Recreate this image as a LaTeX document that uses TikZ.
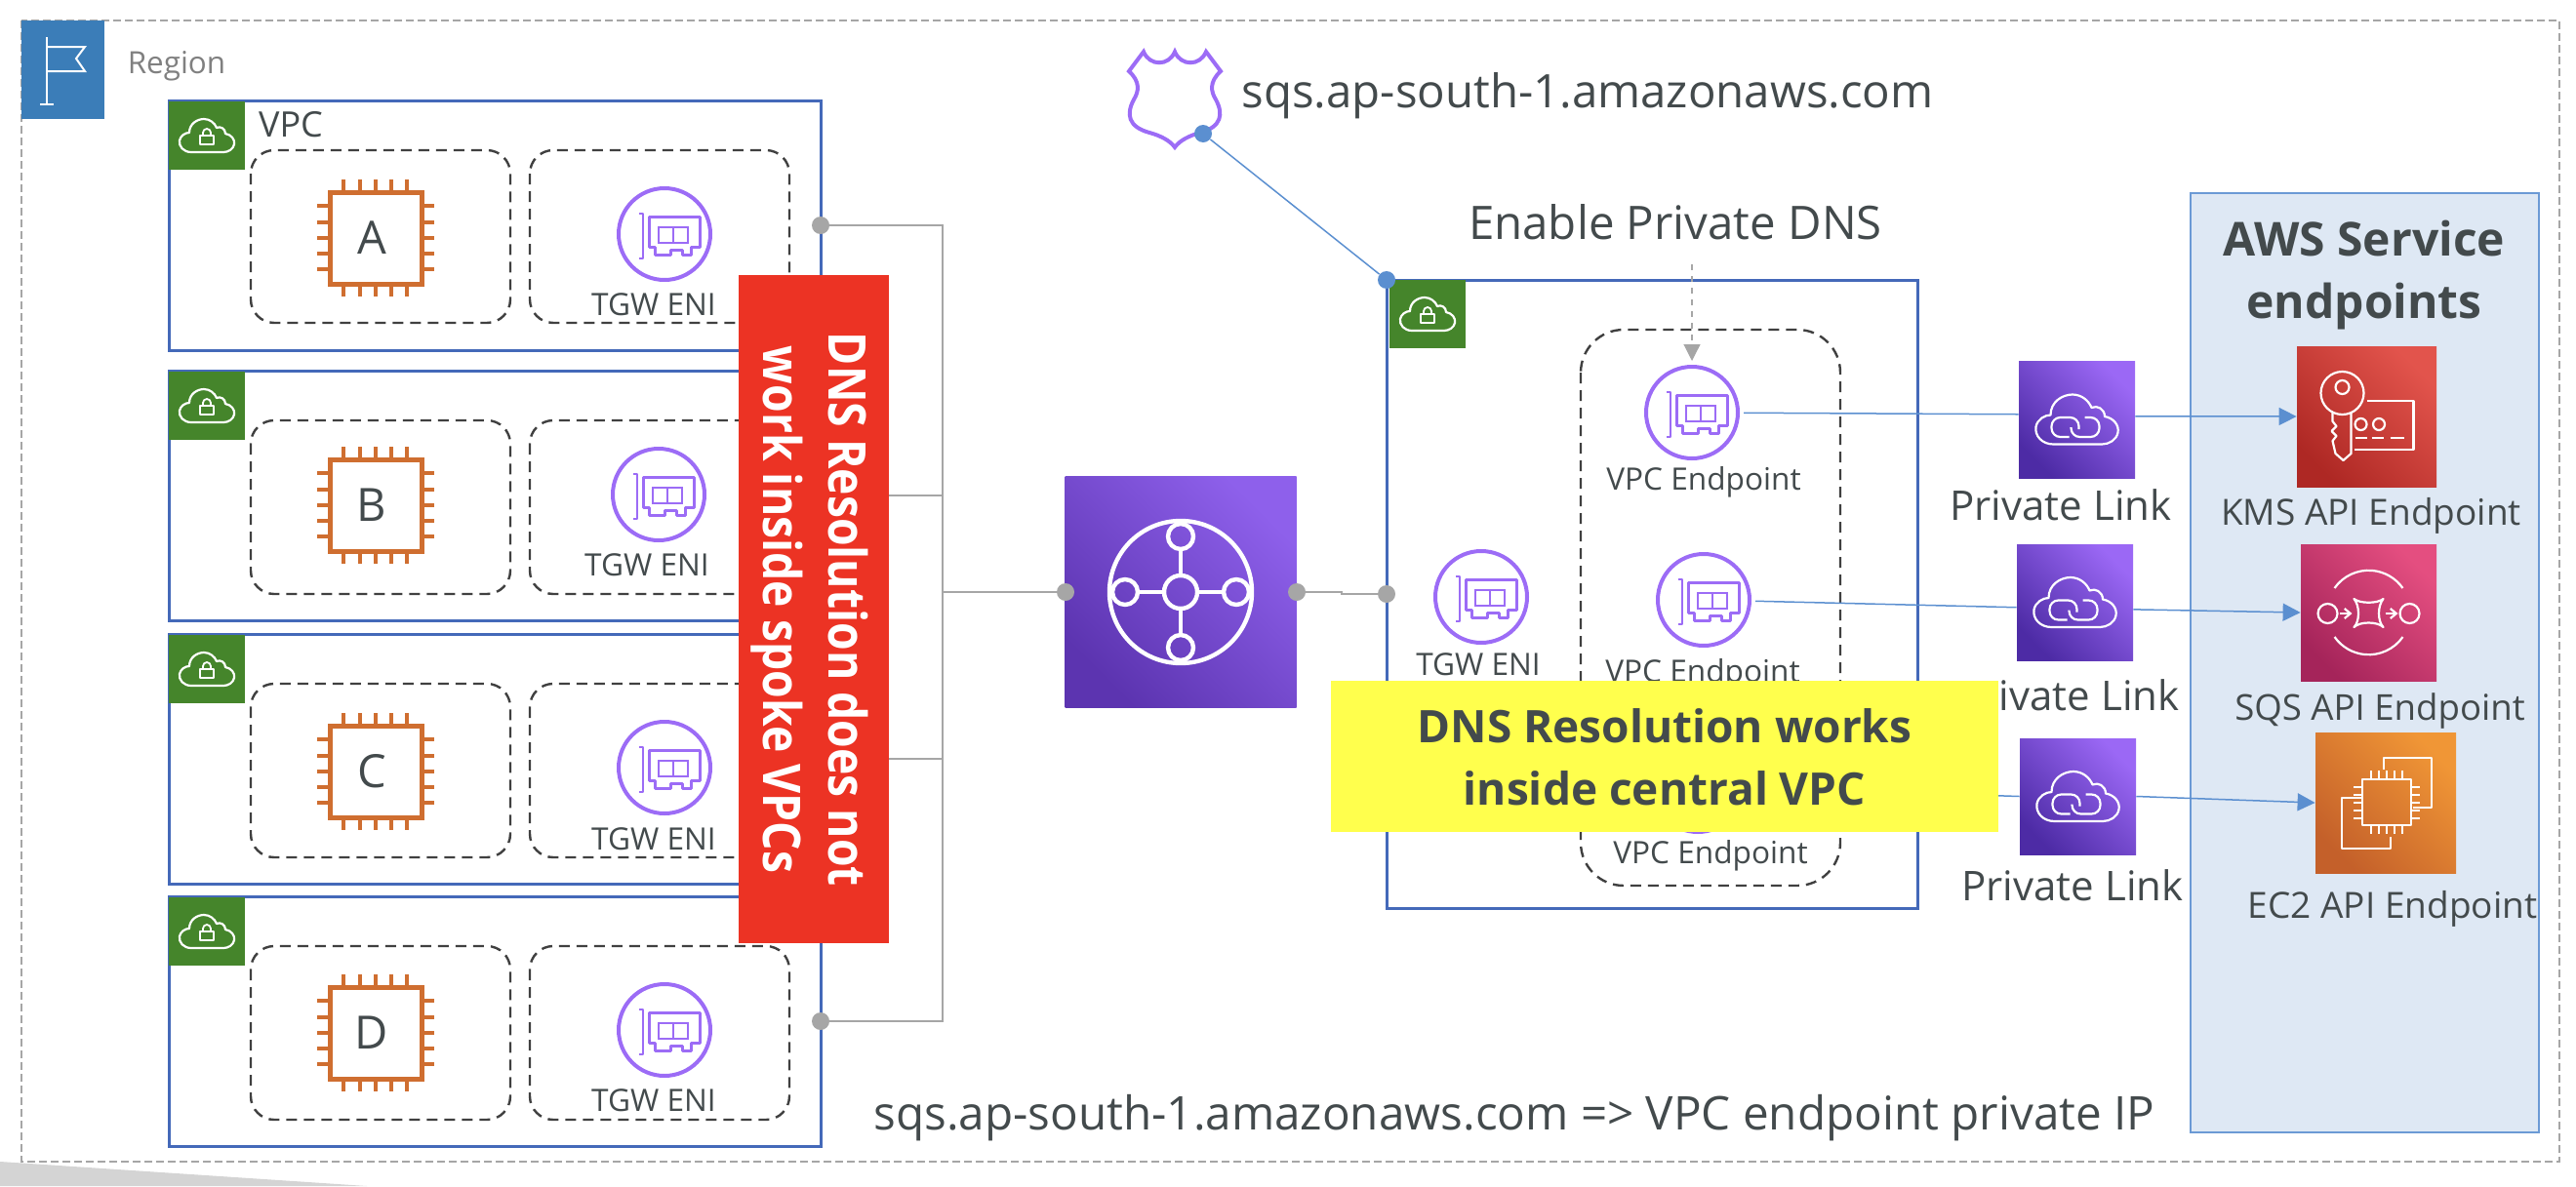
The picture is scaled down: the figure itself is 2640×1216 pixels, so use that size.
\documentclass[tikz,border=0pt]{standalone}
\usepackage{fontspec}
\setmainfont{Open Sans}
\newfontfamily\bannerfont[FakeStretch=0.87]{Open Sans}
\usetikzlibrary{arrows.meta}
\definecolor{txtgray}{HTML}{434A4C}
\definecolor{regiongray}{HTML}{A6A6A6}
\definecolor{regionblue}{HTML}{3B7DB8}
\definecolor{panelblue}{HTML}{DEE8F4}
\definecolor{vpcblue}{HTML}{4469B9}
\definecolor{linkblue}{HTML}{5B8FD0}
\definecolor{eniviolet}{HTML}{9C6CF6}
\definecolor{chiporange}{HTML}{CF6E30}
\definecolor{vpcgreen}{HTML}{45852B}
\definecolor{tgwdark}{HTML}{5C34B0}
\definecolor{tgwlight}{HTML}{8E60EB}
\definecolor{pldark}{HTML}{4D2BA5}
\definecolor{pllight}{HTML}{9B68F5}
\definecolor{kmsdark}{HTML}{AE2824}
\definecolor{kmslight}{HTML}{E2544C}
\definecolor{sqsdark}{HTML}{A5245A}
\definecolor{sqslight}{HTML}{E44E80}
\definecolor{eczdark}{HTML}{C4602A}
\definecolor{eczlight}{HTML}{F09636}
\definecolor{redbanner}{HTML}{EC3324}
\definecolor{yellowbanner}{HTML}{FFFF4D}
\tikzset{
    lbl/.style={text=txtgray, inner sep=0pt, font=\fontsize{#1}{#1}\selectfont},
    lblb/.style={text=txtgray, inner sep=0pt, align=center, font=\fontsize{#1}{32}\selectfont\bfseries},
    grnbox/.style={fill=vpcgreen, inner sep=0pt, minimum width=39pt, minimum height=35pt},
    vpcline/.style={draw=vpcblue, line width=1.5pt},
    dashbox/.style={draw=black!75, line width=1.2pt, dash pattern=on 5.5pt off 3.5pt},
    eninode/.style={circle, draw=eniviolet, line width=2pt, minimum size=47pt, inner sep=0pt, outer sep=3pt},
    graydot/.style={circle, fill=regiongray, minimum size=9pt, inner sep=0pt},
    bluedot/.style={circle, fill=linkblue, minimum size=9pt, inner sep=0pt},
    busline/.style={draw=regiongray, line width=0.8pt},
    bluelink/.style={draw=linkblue, line width=0.75pt},
    bluearrow/.style={bluelink, -{Triangle[length=9pt,width=9pt]}},
    svcbox/.style n args={4}{inner sep=0pt, left color=#1, right color=#2, shading angle=135, minimum width=#3*0.5pt, minimum height=#4*0.5pt},
    wht/.style={draw=white, line width=1.1pt, line join=round},
    % cloud outline, centred on the pic
    cloudpic/.pic={
        \draw[wht] (-16,17) .. controls (-24,17) and (-29,11) .. (-28,5) .. controls (-27,0) and (-22,-3) .. (-18,-3)
            .. controls (-18,-12) and (-10,-17) .. (-3,-17) .. controls (3,-17) and (8,-13) .. (10,-8)
            .. controls (14,-10) and (19,-7) .. (19,-2) .. controls (25,-1) and (29,4) .. (28,9)
            .. controls (27,14) and (22,17) .. (17,17) -- cycle;
    },
    lockpic/.pic={
        \pic {cloudpic};
        \draw[wht, line width=0.9pt] (-7,0) rectangle (7,9);
        \draw[wht, line width=0.9pt] (-4,0) -- (-4,-3) arc (-180:0:4) -- (4,0);
    },
    linkpic/.pic={
        \pic[scale=1.5] {cloudpic};
        \draw[wht, rounded corners=4.5pt] (-8,18) -- (-26,18) -- (-26,-2) -- (2,-2) -- (2,10);
        \draw[wht, rounded corners=4.5pt] (8,-2) -- (23,-2) -- (23,18) -- (-6,18) -- (-6,8);
    },
    chippic/.pic={
        \draw[draw=chiporange, line width=2.5pt] (-47,-47) rectangle (47,47);
        \foreach \p in {-33,-16,0,16,32} {
            \draw[draw=chiporange, line width=2pt] (\p,-60) -- (\p,-47) (\p,47) -- (\p,60);
            \draw[draw=chiporange, line width=2pt] (-60,\p) -- (-47,\p) (47,\p) -- (60,\p);
        }
    },
    enipic/.pic={
        \draw[draw=eniviolet, line width=1.3pt, line join=round] (-26,-21) -- (-22,-21) -- (-22,25) -- (-26,25);
        \draw[draw=eniviolet, line width=1.5pt, line join=round] (-16,-18) -- (36,-18) -- (36,13) -- (27,13) -- (27,21) -- (18,21)
            -- (18,16) -- (6,16) -- (6,21) -- (-10,21) -- (-10,13) -- (-16,13) -- cycle;
        \draw[draw=eniviolet, line width=1.3pt] (-6,-7) rectangle (24,9) (9,-7) -- (9,9);
    },
    shieldpic/.pic={
        \draw[draw=eniviolet, line width=2pt, line join=miter] (-32,-49) .. controls (-26,-34) and (-6,-34) .. (0,-49)
            .. controls (6,-34) and (26,-34) .. (32,-49) -- (47,-29) .. controls (35,-18) and (37,-8) .. (42,0)
            .. controls (50,15) and (48,28) .. (26,34) .. controls (15,37) and (5,42) .. (0,49)
            .. controls (-5,42) and (-15,37) .. (-26,34) .. controls (-48,28) and (-50,15) .. (-42,0)
            .. controls (-37,-8) and (-35,-18) .. (-47,-29) -- cycle;
    },
    tgwpic/.pic={
        \draw[wht, line width=2.2pt] (0,0) circle (73);
        \draw[wht, line width=2.2pt] (0,-43) -- (0,-17) (0,43) -- (0,17) (-44,0) -- (-17,0) (44,0) -- (17,0);
        \draw[wht, line width=2.2pt] (0,0) circle (17);
        \foreach \p in {0,90,180,270} \draw[wht, line width=2.2pt] (\p:57) circle (13);
    },
    kmspic/.pic={
        \draw[wht] (-25,-24) circle (22);
        \draw[wht] (-25,-30) circle (7);
        \draw[wht, line join=round] (-35,-4) -- (-35,5) -- (-31,10) -- (-36,15) -- (-31,20) -- (-35,25) -- (-32,38) -- (-24,45) -- (-16,38) -- (-16,-4);
        \draw[wht] (0,-16) -- (48,-16) -- (48,34) -- (-13,34);
        \draw[wht] (-6,8) circle (6) (12.5,8) circle (6);
        \draw[wht] (-12,22) -- (0,22) (5,22) -- (17,22) (24,22) -- (38,22);
    },
    sqspic/.pic={
        \draw[wht] (-35,-25) arc (-145:-35:42.7);
        \draw[wht] (35,25) arc (35:145:42.7);
        \draw[wht] (-42,1) circle (10) (42,1) circle (10);
        \draw[wht, line join=round] (-15,-14) .. controls (-9,-9) and (9,-9) .. (15,-14) .. controls (9,-7) and (9,9) .. (15,15)
            .. controls (9,9) and (-9,9) .. (-15,15) .. controls (-9,9) and (-9,-7) .. (-15,-14) -- cycle;
        \draw[wht, -{Straight Barb[length=3pt,width=5pt]}] (-30,1) -- (-17,1);
        \draw[wht, -{Straight Barb[length=3pt,width=5pt]}] (17,1) -- (30,1);
    },
    ectwopic/.pic={
        \draw[wht] (-2,-34) -- (-2,-46) -- (47,-46) -- (47,5) -- (28,5);
        \draw[wht] (-23,-5) -- (-45,-5) -- (-45,47) -- (5,47) -- (5,35);
        \draw[wht] (-24,-24) rectangle (26,23);
        \foreach \p in {-16,-8,0,8,16} {
            \draw[wht, line width=0.8pt] (\p+1,-33) -- (\p+1,-24) (\p+1,23) -- (\p+1,32);
            \draw[wht, line width=0.8pt] (-33,\p) -- (-24,\p) (26,\p) -- (35,\p);
        }
    },
}
\begin{document}
\begin{tikzpicture}[x=0.5pt,y=-0.5pt]
    \useasboundingbox (0,0) rectangle (2640,1216);

    % Region frame with its flag tab
    \fill[black!17] (0,1191) -- (376,1216) -- (0,1216) -- cycle;
    \draw[regiongray, line width=1.3pt, dash pattern=on 4pt off 2pt] (22,21) rectangle (2623,1191);
    \fill[regionblue] (22,21) rectangle (107,122);
    \draw[white, line width=1pt] (48,38) -- (48,107) (41,107) -- (55,107);
    \draw[white, line width=1pt] (48,48) -- (87,48) -- (78,60) -- (87,73) -- (48,73);
    \node[lbl=15.7, text=black!50] (regionlbl) at (181,68) {Region};

    % Service endpoints panel
    \draw[draw=linkblue!90, fill=panelblue, line width=0.8pt] (2245,198) rectangle (2602,1161);
    \node[lblb=24] (awslbl) at (2423,282) {AWS Service\\endpoints};

    % Spoke VPCs A to D
    \foreach \vname/\ytop/\ybot/\dtop/\dbot/\ychip/\xeni/\yeni/\xtxt/\ytxt in {
        A/103/359/154/331/244/681/240/670/312,
        B/380/636/431/609/518/675/507/663/579,
        C/650/906/701/879/791/681/787/670/860,
        D/919/1175/970/1148/1059/681/1056/670/1128} {
        \draw[vpcline] (173,\ytop) rectangle (841,\ybot);
        \coordinate (tap\vname) at (841,{(\ytop+\ybot)/2});
        \node[grnbox] (grn\vname) at (212,\ytop+36) {};
        \pic at (grn\vname) {lockpic};
        \draw[dashbox, rounded corners=12pt] (257,\dtop) rectangle (523,\dbot);
        \draw[dashbox, rounded corners=12pt] (543,\dtop) rectangle (809,\dbot);
        \pic at (385,\ychip) {chippic};
        \node[lbl=23.5] (chip\vname) at (381,\ychip) {\vname};
        \node[eninode] (eni\vname) at (\xeni,\yeni) {};
        \pic at (eni\vname) {enipic};
        \node[lbl=15.8] (enilbl\vname) at (\xtxt,\ytxt) {TGW ENI};
    }
    \node[lbl=18] (vpclbl) at (298,128) {VPC};

    % Central VPC
    \draw[vpcline] (1421,287) rectangle (1965,931);
    \node[grnbox] (grnhub) at (1463,322) {};
    \pic at (grnhub) {lockpic};
    \draw[dashbox, rounded corners=22pt] (1620,338) rectangle (1886,908);

    \node[eninode] (eptop) at (1734,423) {};
    \pic at (eptop) {enipic};
    \node[lbl=15.8] (eptoplbl) at (1746,494) {VPC Endpoint};
    \node[eninode] (epmid) at (1746,615) {};
    \pic at (epmid) {enipic};
    \node[lbl=15.8] (epmidlbl) at (1745,691) {VPC Endpoint};
    \node[eninode] (epbot) at (1740,806) {};
    \node[lbl=15.8] (epbotlbl) at (1753,877) {VPC Endpoint};
    \node[eninode] (enihub) at (1518,612) {};
    \pic at (enihub) {enipic};
    \node[lbl=15.8] (enihublbl) at (1515,681) {TGW ENI};

    % Transit gateway and the grey bus
    \node[svcbox={tgwdark}{tgwlight}{237}{237}] (tgw) at (1210,607) {};
    \pic at (tgw) {tgwpic};
    \coordinate (bus) at (966,607);
    \coordinate (tgwstep) at (1375,609);
    \node[graydot] (dotA) at (841,231) {};
    \node[graydot] (dotD) at (841,1047) {};
    \node[graydot] (tgwin) at (1092,607) {};
    \node[graydot] (tgwout) at (1329,607) {};
    \node[graydot] (hubin) at (1421,609) {};
    \draw[busline] (dotA) -| (bus) |- (dotD);
    \draw[busline] (tapB) -- (tapB -| bus);
    \draw[busline] (tapC) -- (tapC -| bus);
    \draw[busline] (bus) -- (tgwin);
    \draw[busline] (tgwout) -| (tgwstep) -- (hubin);

    % DNS record
    \pic at (1204,102) {shieldpic};
    \node[lbl=23.7] (sqslbl) at (1627,98) {sqs.ap-south-1.amazonaws.com};
    \node[bluedot] (shielddot) at (1233,137) {};
    \node[bluedot] (hubdot) at (1421,287) {};
    \draw[bluelink] (shielddot) -- (hubdot);
    \node[lbl=23.7] (dnslbl) at (1717,228) {Enable Private DNS};
    \coordinate (dnsfrom) at (1734,271);
    \draw[regiongray, line width=0.6pt, dashed, -{Triangle[length=8.5pt,width=8.5pt]}] (dnsfrom) -- (eptop);

    % Private links and services
    \node[svcbox={pldark}{pllight}{119}{120}] (plA) at (2128.5,430) {};
    \node[svcbox={pldark}{pllight}{119}{119}] (plB) at (2126.5,617.5) {};
    \node[svcbox={pldark}{pllight}{119}{119}] (plC) at (2129.5,816.5) {};
    \foreach \p in {plA,plB,plC} \pic at (\p) {linkpic};
    \node[lbl=21] (plAlbl) at (2112,518) {Private Link};
    \node[lbl=21] (plBlbl) at (2120,713) {Private Link};
    \node[lbl=21] (plClbl) at (2124,908) {Private Link};

    \node[svcbox={kmsdark}{kmslight}{143}{144}] (kms) at (2425.5,427) {};
    \pic at (kms) {kmspic};
    \node[lbl=18.5] (kmslbl) at (2430,529) {KMS API Endpoint};
    \node[svcbox={sqsdark}{sqslight}{139}{140}] (sqs) at (2427.5,628) {};
    \pic at (sqs) {sqspic};
    \node[lbl=18.3] (sqsapilbl) at (2439,729) {SQS API Endpoint};
    \node[svcbox={eczdark}{eczlight}{144}{144}] (ecz) at (2445,823) {};
    \pic at (ecz) {ectwopic};
    \node[lbl=18.5] (eczlbl) at (2452,932) {EC2 API Endpoint};

    \draw[bluelink] (eptop) -- (plA.175);
    \draw[bluearrow] (plA.3) -- (kms.west);
    \draw[bluelink] (epmid) -- (plB.185);
    \draw[bluearrow] (plB.-7) -- (sqs.west);
    \draw[bluelink] (epbot) -- (plC.west);
    \draw[bluearrow] (plC.east) -- (ecz.west);

    % Banners on top
    \node[fill=redbanner, minimum width=77pt, minimum height=342.5pt, inner sep=0pt] (redbox) at (834,624.5) {};
    \node[text=white, align=center, rotate=-90, inner sep=0pt, font=\bannerfont\fontsize{26.6}{33.5}\selectfont\bfseries] (redlbl) at (830,625) {DNS Resolution does not\\work inside spoke VPCs};
    \node[fill=yellowbanner, minimum width=342pt, minimum height=77.5pt, inner sep=0pt] (yellowbox) at (1706,775.5) {};
    \node[lblb=23] (yellowlbl) at (1706,776) {DNS Resolution works\\inside central VPC};

    \node[lbl=23.8] (iplbl) at (1552,1146) {sqs.ap-south-1.amazonaws.com => VPC endpoint private IP};
\end{tikzpicture}
\end{document}
